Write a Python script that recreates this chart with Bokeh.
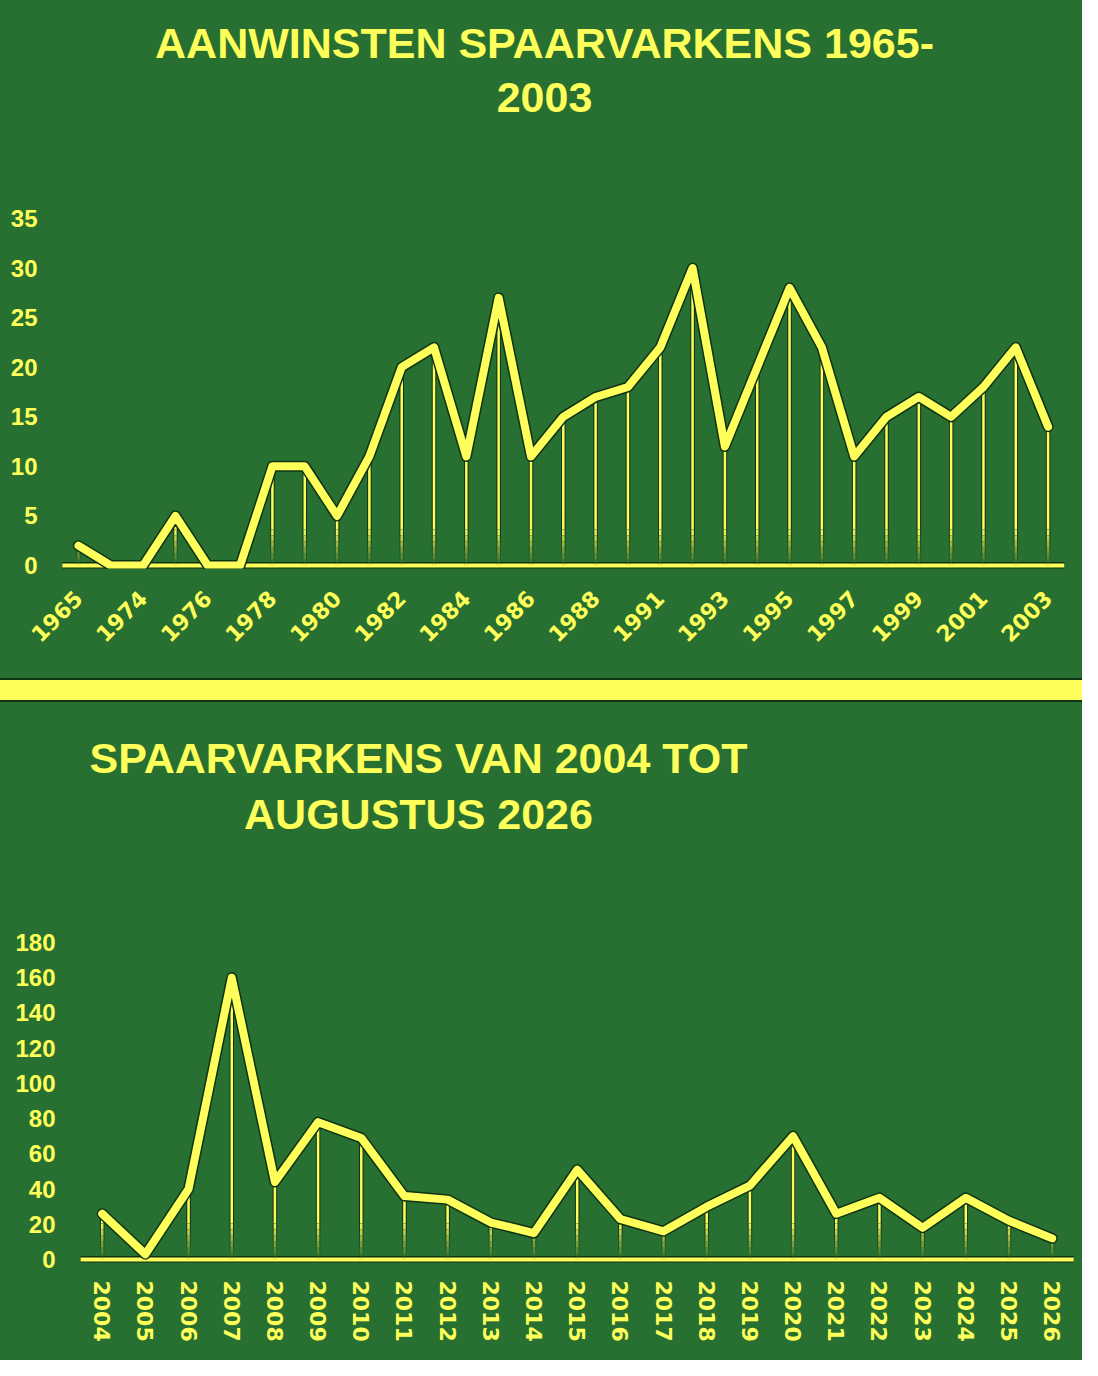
from bokeh.plotting import figure
from bokeh.models import Range1d, FixedTicker, Label, Div, ColumnDataSource
from bokeh.layouts import column
from bokeh.embed import file_html
from bokeh.resources import INLINE

# ---------------- data ----------------
years_top = ["1965", "1973", "1974", "1975", "1976", "1977", "1978", "1979",
             "1980", "1981", "1982", "1983", "1984", "1985", "1986", "1987",
             "1988", "1989", "1991", "1992", "1993", "1994", "1995", "1996",
             "1997", "1998", "1999", "2000", "2001", "2002", "2003"]
values_top = [2, 0, 0, 5, 0, 0, 10, 10, 5, 11, 20, 22, 11, 27, 11, 15,
              17, 18, 22, 30, 12, 20, 28, 22, 11, 15, 17, 15, 18, 22, 14]
yticks_top = [0, 5, 10, 15, 20, 25, 30, 35]
title_top = ["AANWINSTEN SPAARVARKENS 1965-", "2003"]

years_bottom = [str(y) for y in range(2004, 2027)]
values_bottom = [26, 3, 40, 160, 44, 78, 69, 36, 34, 21, 15, 51,
                 23, 16, 30, 42, 70, 26, 35, 18, 35, 22, 12]
yticks_bottom = [0, 20, 40, 60, 80, 100, 120, 140, 160, 180]
title_bottom = ["SPAARVARKENS VAN 2004 TOT", "AUGUSTUS 2026"]

# ---------------- style ----------------
BG = "#277031"
YEL = "#FFFF5B"
DARK = "#0f3314"
FONT = "Liberation Sans"
XFONT = "DejaVu Sans"
W = 1082
BL, BR = 61, 6            # same borders for both figures
FW = W - BL - BR          # frame width
FADE_PX = 36              # stems fade out over this many pixels near zero
FADE_STEPS = 6


def make_chart(cats, vals, yticks, title_lines, height, first_px, step_px,
               zero_y, top_tick_y, ymax_tick, label_step, orientation,
               ylabel_right, xstandoff, title_cx, title_ys):
    n = len(cats)
    ppu = (zero_y - top_tick_y) / ymax_tick      # pixels per value unit
    pad = 3                                        # px below zero line
    frame_h = zero_y + pad
    x0 = -(first_px - BL) / step_px
    p = figure(width=W, height=height, output_backend="svg",
               toolbar_location=None, tools="",
               x_range=Range1d(x0, x0 + FW / step_px),
               y_range=Range1d(-pad / ppu, zero_y / ppu),
               min_border_left=BL, min_border_right=BR,
               min_border_top=0, min_border_bottom=height - frame_h,
               background_fill_color=None, border_fill_color=BG,
               outline_line_color=None,
               styles={"background-color": BG})
    p.xgrid.visible = False
    p.ygrid.visible = False

    xs = list(range(n))
    src = ColumnDataSource(dict(x=xs, y=vals))

    # axis baseline (category span)
    p.segment(x0=[-0.5], y0=[0], x1=[n - 0.5], y1=[0],
              line_color=DARK, line_width=7)
    p.segment(x0=[-0.5], y0=[0], x1=[n - 0.5], y1=[0],
              line_color=YEL, line_width=4)

    # drop lines: solid above the fade band, fading towards the baseline
    fade = FADE_PX / ppu
    sx, sy0, sy1 = [], [], []
    for x, v in zip(xs, vals):
        if v > fade:
            sx.append(x); sy0.append(fade); sy1.append(v)
    p.segment(x0=sx, y0=sy0, x1=sx, y1=sy1, line_color=DARK, line_width=4.5)
    p.segment(x0=sx, y0=sy0, x1=sx, y1=sy1, line_color=YEL, line_width=2.5)
    for k in range(FADE_STEPS):
        lo = fade * k / FADE_STEPS
        hi = fade * (k + 1) / FADE_STEPS
        a = (k + 0.5) / FADE_STEPS
        fx, f0, f1 = [], [], []
        for x, v in zip(xs, vals):
            if v > lo:
                fx.append(x); f0.append(lo); f1.append(min(v, hi))
        if fx:
            p.segment(x0=fx, y0=f0, x1=fx, y1=f1, line_color=DARK,
                      line_width=4.5, line_alpha=a)
            p.segment(x0=fx, y0=f0, x1=fx, y1=f1, line_color=YEL,
                      line_width=2.5, line_alpha=a)

    # main line with dark outline
    p.line("x", "y", source=src, line_color=DARK, line_width=11,
           line_join="round", line_cap="round")
    p.line("x", "y", source=src, line_color=YEL, line_width=8,
           line_join="round", line_cap="round")

    xa = p.xaxis[0]
    xa.ticker = FixedTicker(ticks=xs[::label_step])
    xa.major_label_overrides = {i: cats[i] for i in xs}
    xa.major_label_orientation = orientation
    xa.axis_line_color = None
    xa.major_tick_line_color = None
    xa.minor_tick_line_color = None
    xa.major_tick_out = 0
    xa.major_tick_in = 0
    xa.major_label_text_color = YEL
    xa.major_label_text_font = XFONT
    xa.major_label_text_font_style = "bold"
    xa.major_label_text_font_size = "22px"
    xa.major_label_standoff = xstandoff

    ya = p.yaxis[0]
    ya.ticker = FixedTicker(ticks=yticks)
    ya.axis_line_color = None
    ya.major_tick_line_color = None
    ya.minor_tick_line_color = None
    ya.major_tick_out = 0
    ya.major_tick_in = 0
    ya.major_label_text_color = YEL
    ya.major_label_text_font = FONT
    ya.major_label_text_font_style = "bold"
    ya.major_label_text_font_size = "24px"
    ya.major_label_standoff = BL - ylabel_right

    cx = (title_cx - first_px) / step_px
    for line, ty in zip(title_lines, title_ys):
        p.add_layout(Label(x=cx, y=(zero_y - ty) / ppu, text=line,
                           text_align="center", text_baseline="middle",
                           text_color=YEL, text_font=FONT,
                           text_font_style="bold", text_font_size="43px"))
    return p


p1 = make_chart(years_top, values_top, yticks_top, title_top,
                height=678, first_px=78, step_px=32.32,
                zero_y=565, top_tick_y=218, ymax_tick=35, label_step=2,
                orientation=0.785398, ylabel_right=37, xstandoff=26,
                title_cx=544, title_ys=(42, 97))

sep = Div(width=W, height=24, margin=0,
          styles={"background-color": YEL,
                  "border-top": "2px solid " + DARK,
                  "border-bottom": "2px solid " + DARK,
                  "box-sizing": "border-box"})

p2 = make_chart(years_bottom, values_bottom, yticks_bottom, title_bottom,
                height=658, first_px=101.7, step_px=43.18,
                zero_y=557, top_tick_y=240, ymax_tick=180, label_step=1,
                orientation="vertical", ylabel_right=55, xstandoff=18,
                title_cx=418, title_ys=(55, 111))

layout = column(p1, sep, p2, spacing=0, styles={"background-color": BG})

open("out.html", "w").write(file_html(layout, INLINE))
